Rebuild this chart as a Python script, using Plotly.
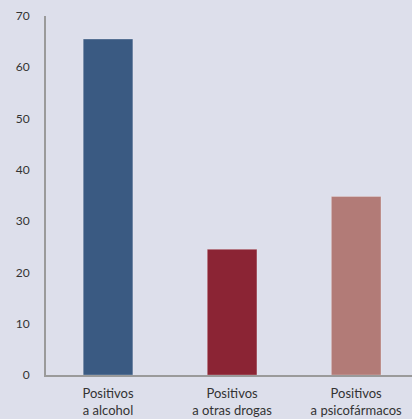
import plotly.graph_objects as go

categories = ["Positivos<br>a alcohol", "Positivos<br>a otras drogas", "Positivos<br>a psicofármacos"]
values = [65.5, 24.5, 34.8]
colors = ["#3a5a82", "#8b2434", "#b27b77"]
y_ticks = [0, 10, 20, 30, 40, 50, 60, 70]

bg = "#dddfeb"

fig = go.Figure(go.Bar(
    x=list(range(len(categories))),
    y=values,
    marker=dict(color=colors, line=dict(color="rgba(255,255,255,0.25)", width=1)),
    width=0.4,
    hoverinfo="skip",
))

fig.update_layout(
    width=412, height=419, autosize=False,
    margin=dict(l=46, r=0, t=16, b=44),
    paper_bgcolor=bg, plot_bgcolor=bg,
    showlegend=False,
    font=dict(family="Lato, DejaVu Sans, sans-serif", color="#333333", size=12),
    bargap=0.6,
)
fig.update_xaxes(
    range=[-0.5, 2.45],
    tickmode="array", tickvals=list(range(len(categories))), ticktext=categories,
    showline=True, linecolor="#9a9a9a", linewidth=2,
    showgrid=False, zeroline=False, ticks="",
    ticklabelstandoff=5,
    tickfont=dict(size=13),
)
fig.update_yaxes(
    range=[0, 70],
    tickmode="array", tickvals=y_ticks,
    showline=True, linecolor="#9a9a9a", linewidth=2,
    showgrid=False, zeroline=False, ticks="",
    ticklabelstandoff=12,
    tickfont=dict(size=12),
)

fig.write_html(
    "out.html",
    config={"displayModeBar": False},
    post_script="document.body.style.margin='0';document.body.style.background='%s';" % bg,
)
